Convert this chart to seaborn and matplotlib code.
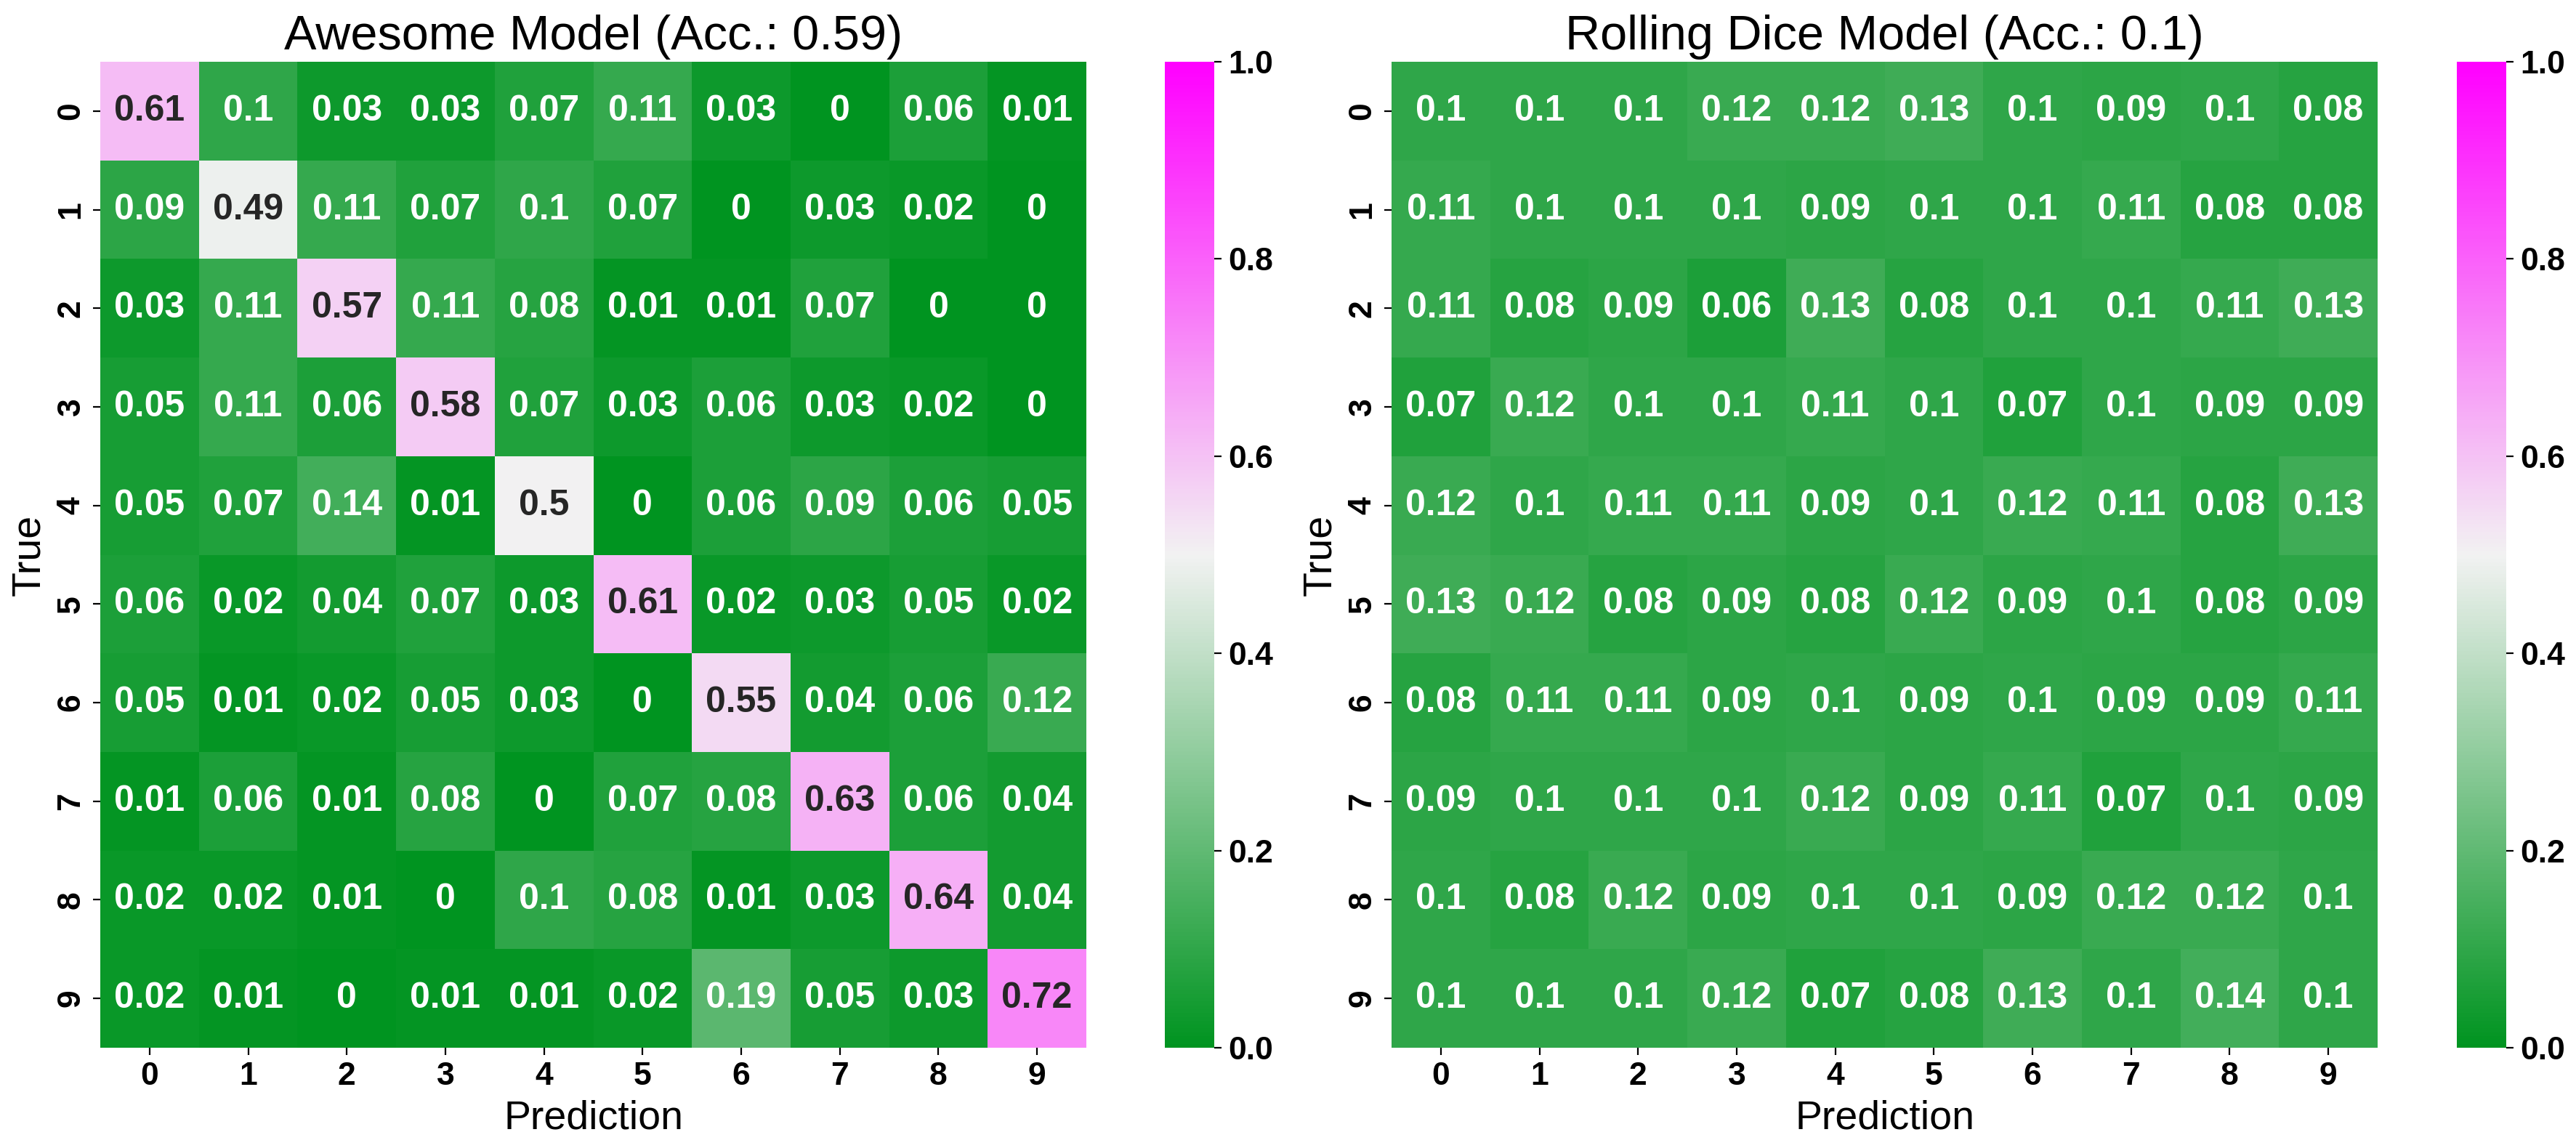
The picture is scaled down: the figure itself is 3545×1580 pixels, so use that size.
import numpy as np
import pandas as pd
import seaborn as sns
import matplotlib.pyplot as plt
from matplotlib.colors import LinearSegmentedColormap

plt.rcParams['font.family'] = ['Liberation Sans', 'DejaVu Sans']

classes = [str(i) for i in range(10)]

# confusion matrix of the "awesome" model (rows = true, cols = prediction)
awesome = [
    [0.61, 0.1, 0.03, 0.03, 0.07, 0.11, 0.03, 0, 0.06, 0.01],
    [0.09, 0.49, 0.11, 0.07, 0.1, 0.07, 0, 0.03, 0.02, 0],
    [0.03, 0.11, 0.57, 0.11, 0.08, 0.01, 0.01, 0.07, 0, 0],
    [0.05, 0.11, 0.06, 0.58, 0.07, 0.03, 0.06, 0.03, 0.02, 0],
    [0.05, 0.07, 0.14, 0.01, 0.5, 0, 0.06, 0.09, 0.06, 0.05],
    [0.06, 0.02, 0.04, 0.07, 0.03, 0.61, 0.02, 0.03, 0.05, 0.02],
    [0.05, 0.01, 0.02, 0.05, 0.03, 0, 0.55, 0.04, 0.06, 0.12],
    [0.01, 0.06, 0.01, 0.08, 0, 0.07, 0.08, 0.63, 0.06, 0.04],
    [0.02, 0.02, 0.01, 0, 0.1, 0.08, 0.01, 0.03, 0.64, 0.04],
    [0.02, 0.01, 0, 0.01, 0.01, 0.02, 0.19, 0.05, 0.03, 0.72],
]

# confusion matrix of the random model
dice = [
    [0.1, 0.1, 0.1, 0.12, 0.12, 0.13, 0.1, 0.09, 0.1, 0.08],
    [0.11, 0.1, 0.1, 0.1, 0.09, 0.1, 0.1, 0.11, 0.08, 0.08],
    [0.11, 0.08, 0.09, 0.06, 0.13, 0.08, 0.1, 0.1, 0.11, 0.13],
    [0.07, 0.12, 0.1, 0.1, 0.11, 0.1, 0.07, 0.1, 0.09, 0.09],
    [0.12, 0.1, 0.11, 0.11, 0.09, 0.1, 0.12, 0.11, 0.08, 0.13],
    [0.13, 0.12, 0.08, 0.09, 0.08, 0.12, 0.09, 0.1, 0.08, 0.09],
    [0.08, 0.11, 0.11, 0.09, 0.1, 0.09, 0.1, 0.09, 0.09, 0.11],
    [0.09, 0.1, 0.1, 0.1, 0.12, 0.09, 0.11, 0.07, 0.1, 0.09],
    [0.1, 0.08, 0.12, 0.09, 0.1, 0.1, 0.09, 0.12, 0.12, 0.1],
    [0.1, 0.1, 0.1, 0.12, 0.07, 0.08, 0.13, 0.1, 0.14, 0.1],
]

titles = ['Awesome Model (Acc.: 0.59)', 'Rolling Dice Model (Acc.: 0.1)']

cmap = LinearSegmentedColormap.from_list('gm', ['#009420', '#f2f2f2', '#ff00ff'])

W, H = 3545, 1580
fig = plt.figure(figsize=(W / 200, H / 200), dpi=200)

# axes positions in pixels: heatmap left, colorbar left
lefts = [(138, 1603), (1915, 3381)]
side = 1357
bottom = (H - 1442) / H

for (hx, cx), mat, title in zip(lefts, [awesome, dice], titles):
    ax = fig.add_axes([hx / W, bottom, side / W, side / H])
    cax = fig.add_axes([cx / W, bottom, 68 / W, side / H])
    df = pd.DataFrame(mat, index=classes, columns=classes)
    sns.heatmap(df, ax=ax, cbar_ax=cax, cmap=cmap, vmin=0, vmax=1,
                annot=True, fmt='g', annot_kws={'size': 18, 'weight': 'bold'})
    ax.set_title(title, fontsize=24)
    ax.set_xlabel('Prediction', fontsize=20)
    ax.set_ylabel('True', fontsize=20)
    ax.tick_params(axis='both', labelsize=16)
    for t in ax.get_xticklabels():
        t.set_fontweight('bold')
    for t in ax.get_yticklabels():
        t.set_fontweight('bold')
        t.set_rotation(90)
        t.set_verticalalignment('center')
    cax.tick_params(labelsize=16)
    cax.set_yticks([0, 0.2, 0.4, 0.6, 0.8, 1.0])
    for t in cax.get_yticklabels():
        t.set_fontweight('bold')

fig.savefig('out.png', dpi=200)
